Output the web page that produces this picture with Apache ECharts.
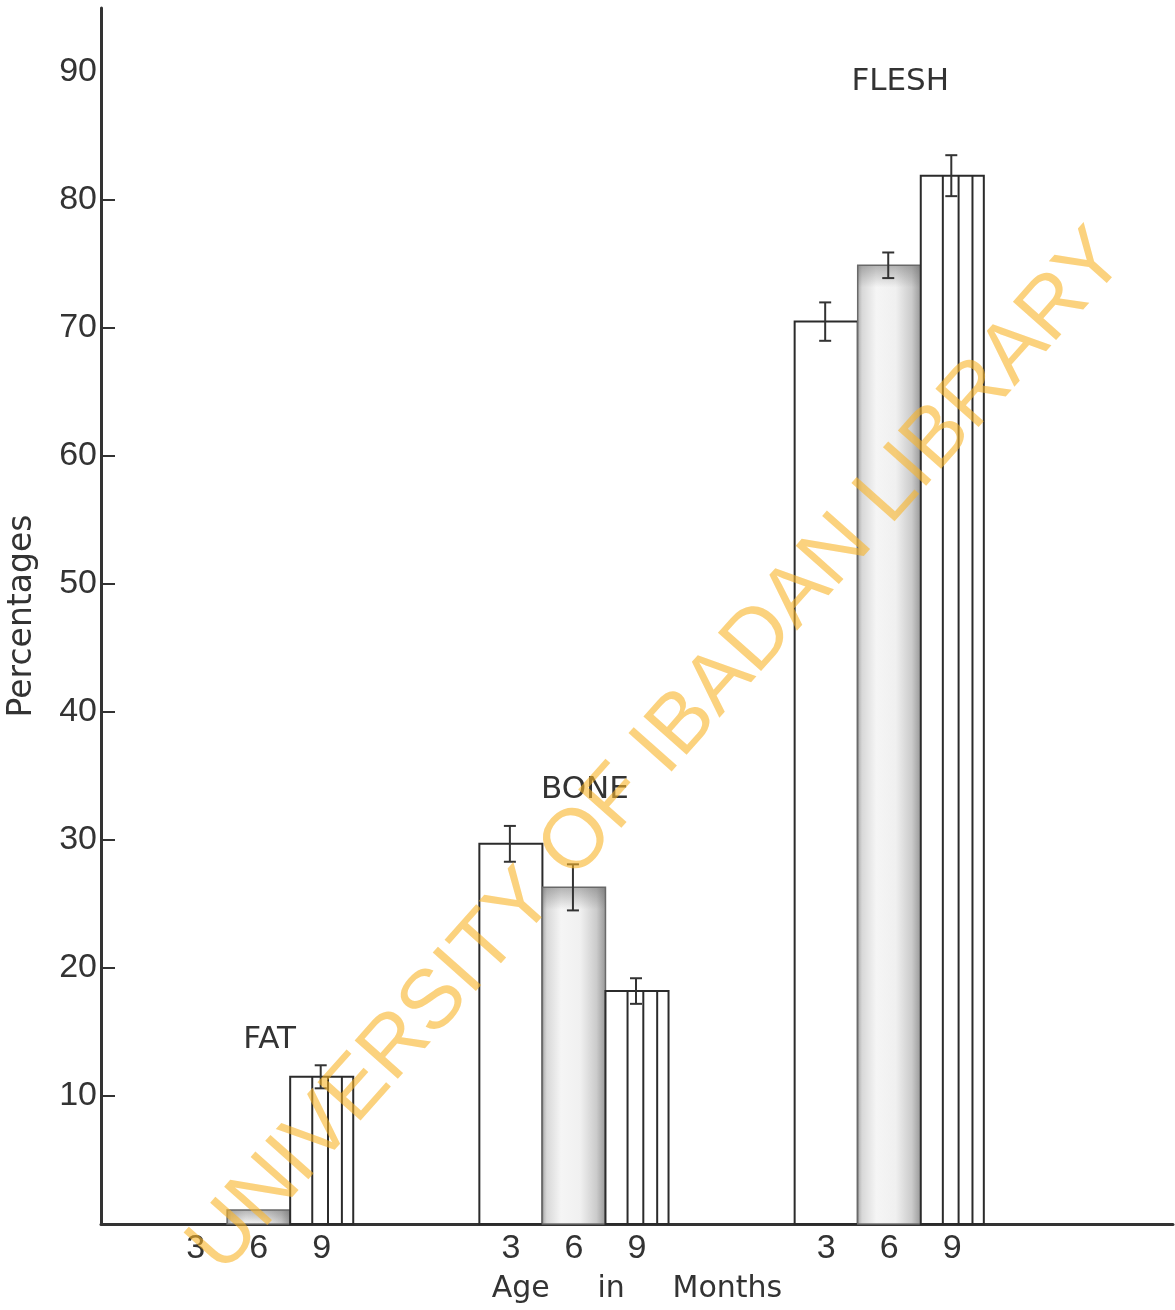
<!DOCTYPE html>
<html>
<head>
<meta charset="utf-8">
<script src="https://cdn.jsdelivr.net/npm/echarts@6/dist/echarts.min.js"></script>
<style>
  html, body { margin: 0; padding: 0; background: #fff; }
  #chart { width: 1175px; height: 1310px; }
</style>
</head>
<body>
<div id="chart"></div>
<script>
// Age (months) tick labels along the x axis; empty slots separate the groups
const ageTicks = ['', '3', '6', '9', '', '', '3', '6', '9', '', '', '3', '6', '9', '', '', ''];
const groups = ['FAT', 'BONE', 'FLESH'];

// Percentages at 3, 6 and 9 months
const fat   = [0, 1.1, 11.5];
const bone  = [29.7, 26.3, 18.2];
const flesh = [70.5, 74.9, 81.9];

// Error bar half-lengths
const fatErr   = [0, 0, 0.9];
const boneErr  = [1.4, 1.8, 1.0];
const fleshErr = [1.5, 1.0, 1.6];

// Height (in %) at which each group name is written
const groupLabelAt = [14.4, 33.9, 89.2];

const yTicks = [10, 20, 30, 40, 50, 60, 70, 80, 90];

const values = [fat, bone, flesh];
const errors = [fatErr, boneErr, fleshErr];

// each non-empty tick is one bar slot, taken in order
const slots = ageTicks.map((t, i) => (t ? i : -1)).filter(i => i >= 0);
const barData = [];
values.forEach((g, gi) => g.forEach((v, mi) => {
  barData.push([slots[gi * 3 + mi], v, errors[gi][mi], mi]);
}));

const INK = '#2b2b2b';
const TEXT = '#333';

function renderBar(params, api) {
  const slot = api.value(0);
  const v = api.value(1);
  const e = api.value(2);
  const m = api.value(3);
  if (!v) return { type: 'group', children: [] };
  const base = api.coord([slot, 0]);
  const top = api.coord([slot, v]);
  const w = api.size([1, 0])[0];
  const x0 = base[0] - w / 2;
  const y0 = top[1];
  const h = base[1] - top[1];
  const children = [];

  if (m === 1) {
    // shaded bar
    children.push({
      type: 'rect',
      shape: { x: x0, y: y0, width: w, height: h },
      style: {
        fill: {
          type: 'linear', x: 0, y: 0, x2: 1, y2: 0,
          colorStops: [
            { offset: 0, color: '#a4a4a4' },
            { offset: 0.08, color: '#d8d8d8' },
            { offset: 0.3, color: '#f5f5f5' },
            { offset: 0.6, color: '#f0f0f0' },
            { offset: 0.85, color: '#cbcbcb' },
            { offset: 1, color: '#959595' }
          ]
        },
        stroke: '#6a6a6a', lineWidth: 1.5
      }
    });
    children.push({
      type: 'rect',
      shape: { x: x0, y: y0, width: w, height: Math.min(h, 22) },
      style: {
        fill: {
          type: 'linear', x: 0, y: 0, x2: 0, y2: 1,
          colorStops: [
            { offset: 0, color: 'rgba(100,100,100,0.45)' },
            { offset: 1, color: 'rgba(100,100,100,0)' }
          ]
        }
      }
    });
  } else {
    children.push({
      type: 'rect',
      shape: { x: x0, y: y0, width: w, height: h },
      style: { fill: '#fff', stroke: INK, lineWidth: 2 }
    });
    if (m === 2) {
      // vertical hatching
      [0.35, 0.6, 0.82].forEach(f => {
        children.push({
          type: 'line',
          shape: { x1: x0 + w * f, y1: y0, x2: x0 + w * f, y2: base[1] },
          style: { stroke: INK, lineWidth: 2 }
        });
      });
    }
  }

  if (e > 0) {
    const hi = api.coord([slot, v + e]);
    const lo = api.coord([slot, v - e]);
    const cx = base[0] - 1;
    children.push(
      { type: 'line', shape: { x1: cx, y1: hi[1], x2: cx, y2: lo[1] }, style: { stroke: '#333', lineWidth: 2 } },
      { type: 'line', shape: { x1: cx - 6, y1: hi[1], x2: cx + 6, y2: hi[1] }, style: { stroke: '#333', lineWidth: 2 } },
      { type: 'line', shape: { x1: cx - 6, y1: lo[1], x2: cx + 6, y2: lo[1] }, style: { stroke: '#333', lineWidth: 2 } }
    );
  }
  return { type: 'group', children };
}

const chart = echarts.init(document.getElementById('chart'), null, { renderer: 'canvas' });

chart.setOption({
  animation: false,
  backgroundColor: '#fff',
  grid: { left: 101, top: 8, width: 1072, height: 1216, containLabel: false, outerBoundsMode: 'none' },
  xAxis: {
    type: 'category',
    data: ageTicks,
    boundaryGap: true,
    axisLine: { lineStyle: { color: '#333', width: 3 } },
    axisTick: { show: false },
    axisLabel: {
      interval: 0, margin: 8,
      fontFamily: 'Liberation Sans', fontSize: 34, color: TEXT
    },
    name: 'Age     in     Months',
    nameLocation: 'middle',
    nameGap: 50,
    nameTextStyle: { fontFamily: 'DejaVu Sans', fontSize: 30, color: TEXT, padding: [0, 0, 0, 0] }
  },
  yAxis: {
    type: 'value',
    min: 0, max: 95, interval: 10,
    axisLine: { show: true, lineStyle: { color: '#333', width: 3 } },
    axisTick: {
      show: true, inside: true, length: 14,
      lineStyle: { color: '#333', width: 2 },
      customValues: yTicks.slice(0, -1)
    },
    axisLabel: {
      margin: 4,
      fontFamily: 'Liberation Sans', fontSize: 34, color: TEXT,
      customValues: yTicks
    },
    splitLine: { show: false },
    name: 'Percentages',
    nameLocation: 'middle',
    nameRotate: 90,
    nameGap: 62,
    nameTextStyle: { fontFamily: 'DejaVu Sans', fontSize: 33, color: TEXT }
  },
  series: [
    {
      type: 'custom',
      renderItem: renderBar,
      data: barData,
      encode: { x: 0, y: 1 },
      clip: false
    },
    {
      type: 'scatter',
      symbolSize: 0,
      silent: true,
      itemStyle: { opacity: 1 },
      data: groups.map((g, i) => ({ name: g, value: [slots[i * 3 + 1], groupLabelAt[i]] })),
      label: {
        show: true, position: 'inside', formatter: '{b}', offset: [11, 0],
        fontFamily: 'DejaVu Sans', fontSize: 31, color: TEXT,
        opacity: 1, textBorderWidth: 0
      }
    }
  ],
  graphic: [
    {
      type: 'text',
      x: 658, y: 752,
      rotation: 48.3 * Math.PI / 180,
      z: 100,
      style: {
        text: 'UNIVERSITY OF IBADAN LIBRARY',
        fontFamily: 'Liberation Sans',
        fontSize: 84,
        fill: 'rgba(248,180,40,0.6)',
        align: 'center',
        verticalAlign: 'middle'
      }
    }
  ]
});
</script>
</body>
</html>
